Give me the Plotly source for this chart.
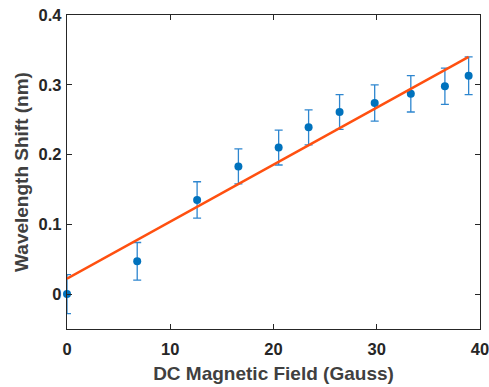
import plotly.graph_objects as go

field = [0, 6.8, 12.6, 16.6, 20.5, 23.4, 26.4, 29.8, 33.3, 36.6, 38.9]
shift = [0.000, 0.047, 0.135, 0.183, 0.210, 0.239, 0.261, 0.274, 0.287, 0.298, 0.313]
err = [0.028, 0.027, 0.026, 0.025, 0.025, 0.025, 0.025, 0.026, 0.026, 0.026, 0.027]

fit_x = [0, 38.9]
fit_y = [0.022, 0.340]

fig = go.Figure()
fig.add_trace(go.Scatter(
    x=field, y=shift, mode="markers",
    marker=dict(color="#0072BD", size=8),
    error_y=dict(type="data", array=err, visible=True, color="#2E86CF", thickness=1.3, width=4),
    showlegend=False, cliponaxis=False))
fig.add_trace(go.Scatter(
    x=fit_x, y=fit_y, mode="lines",
    line=dict(color="#FF5010", width=2.5), showlegend=False))

axis_common = dict(
    showline=True, linecolor="#262626", linewidth=1.3, mirror="ticks",
    ticks="inside", ticklen=5, tickwidth=1, tickcolor="#262626",
    showgrid=False, zeroline=False, automargin=False, ticklabeloverflow="allow",
    tickfont=dict(family="Liberation Sans, Arial", size=16.5, color="#262626", weight="bold"),
)

fig.update_layout(
    width=489, height=387,
    margin=dict(l=67, r=9, t=15, b=58),
    plot_bgcolor="white", paper_bgcolor="white",
    font=dict(family="Liberation Sans, Arial", color="#262626"),
    xaxis=dict(range=[0, 40], tickvals=[0, 10, 20, 30, 40], ticklabelstandoff=5,
               title=dict(text="DC Magnetic Field (Gauss)", standoff=9,
                          font=dict(size=19, color="#404040", weight="bold")),
               **axis_common),
    yaxis=dict(range=[-0.05, 0.4], tickvals=[0, 0.1, 0.2, 0.3, 0.4],
               ticktext=["0", "0.1", "0.2", "0.3", "0.4"], ticklabelstandoff=1,
               title=dict(text="Wavelength Shift (nm)", standoff=4,
                          font=dict(size=19, color="#404040", weight="bold")),
               **axis_common),
)

fig.write_html("out.html", config={"displayModeBar": False},
               post_script="document.body.style.margin='0px';")
